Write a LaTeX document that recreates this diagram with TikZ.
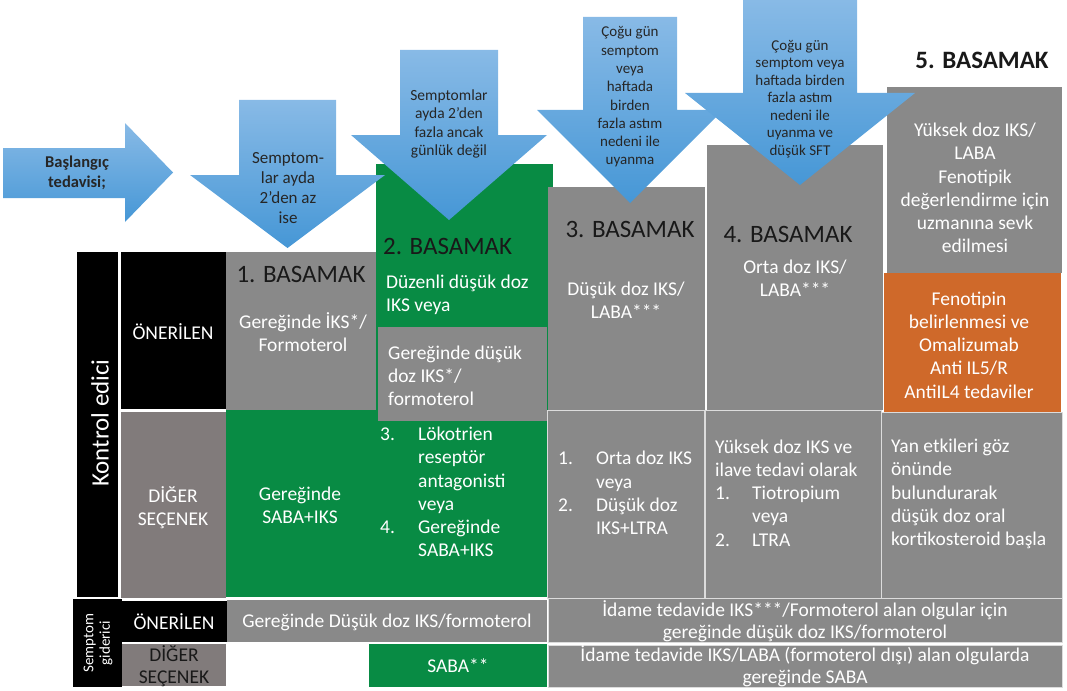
\documentclass[tikz,border=0pt]{standalone}
\usepackage{fontspec}
\setmainfont{Carlito}
\definecolor{cellgray}{RGB}{137,137,137}
\definecolor{sidegray}{RGB}{129,123,123}
\definecolor{stepgreen}{RGB}{8,139,68}
\definecolor{steporange}{RGB}{207,105,42}
\definecolor{arrowtop}{RGB}{136,186,230}
\definecolor{arrowbot}{RGB}{70,151,214}
\newcommand\cellfont{\fontsize{19.5}{23.2}\selectfont}
\newcommand\titlefont{\fontsize{25}{28}\selectfont}
\tikzset{
  cell/.style={anchor=north west,inner sep=0pt,outer sep=0pt},
  lined/.style={cell,draw=white!70!cellgray,line width=0.8pt},
  wtxt/.style={text=white,align=center,font=\cellfont,inner sep=0pt},
  ltxt/.style={wtxt,align=left,anchor=west},
  title/.style={text=black!90,font=\titlefont,inner sep=0pt},
  arrowtxt/.style={text=black!85,align=center,inner sep=0pt},
  blockarrow/.style={top color=arrowtop,bottom color=arrowbot}
}
\begin{document}
\begin{tikzpicture}[x=1pt,y=-1pt]
\useasboundingbox (0,0) rectangle (1067,690);
% Row labels
\node[cell,fill=black,minimum width=41pt,minimum height=345pt] (KE) at (77,252) {};
\node[cell,fill=black,minimum width=105pt,minimum height=157pt] (ON1) at (121,252) {};
\node[cell,fill=sidegray,minimum width=105pt,minimum height=186pt] (DS1) at (121,412) {};
% Steps 1 and 2
\node[cell,fill=cellgray,minimum width=150pt,minimum height=158pt] (S1a) at (226,252) {};
\node[cell,fill=stepgreen,minimum width=150pt,minimum height=187pt] (S1b) at (226,410) {};
\node[cell,fill=stepgreen,minimum width=177pt,minimum height=433pt] (S2) at (376,164) {};
\node[cell,fill=cellgray,minimum width=169pt,minimum height=94pt] (S2g) at (378,327) {};
% Steps 3 to 5
\node[cell,fill=cellgray,minimum width=157pt,minimum height=223pt] (S3a) at (548,187) {};
\node[cell,fill=cellgray,minimum width=176pt,minimum height=265pt] (S4a) at (707,145) {};
\node[cell,fill=cellgray,minimum width=175pt,minimum height=186pt] (S5a) at (887,87) {};
\node[cell,fill=steporange,minimum width=177pt,minimum height=139pt] (S5o) at (884,273) {};
\node[lined,fill=cellgray,minimum width=157pt,minimum height=188pt] (S3b) at (547,410) {};
\node[lined,fill=cellgray,minimum width=176pt,minimum height=188pt] (S4b) at (705,410) {};
\node[lined,fill=cellgray,minimum width=181pt,minimum height=186pt] (S5b) at (881,412) {};
% Symptom relievers
\node[cell,fill=black,minimum width=49pt,minimum height=88pt] (SG) at (73,599) {};
\node[cell,fill=black,minimum width=105pt,minimum height=41pt] (ON2) at (122,601) {};
\node[cell,fill=sidegray,minimum width=104pt,minimum height=42pt] (DS2) at (122,644) {};
\node[cell,fill=cellgray,minimum width=320pt,minimum height=42pt] (R1a) at (227,600) {};
\node[lined,fill=cellgray,minimum width=514pt,minimum height=44pt] (R1b) at (548,598) {};
\node[cell,fill=stepgreen,minimum width=178pt,minimum height=43pt] (R2a) at (369,644) {};
\node[lined,fill=cellgray,minimum width=514pt,minimum height=42pt] (R2b) at (548,645) {};
% Block arrows
\shade[blockarrow] (3,148) -- (125,148) -- (125,123) -- (173,172.5) -- (125,222) -- (125,198) -- (3,198) -- cycle;
\foreach \xl/\xr/\yt/\yh/\hl/\hr/\yp in {239/336/100/175/190/385/248, 400/498/50/135/351/547/220,
    583/677/17/110/537/723/203, 743/857/0/93/685/915/185}
  \shade[blockarrow] (\xl,\yt) -- (\xr,\yt) -- (\xr,\yh) -- (\hr,\yh) -- ({(\hl+\hr)/2},\yp)
    -- (\hl,\yh) -- (\xl,\yh) -- cycle;
% Arrow texts
\node[arrowtxt,font=\fontsize{16.5}{20}\selectfont\bfseries] (A0) at (77,173) {Başlangıç\\tedavisi;};
\node[arrowtxt,font=\fontsize{17}{20}\selectfont] (A1) at (288,188) {Semptom-\\lar ayda\\2’den az\\ise};
\node[arrowtxt,font=\fontsize{15.5}{18.3}\selectfont] (A2) at (449,124) {Semptomlar\\ayda 2’den\\fazla ancak\\günlük değil};
\node[arrowtxt,font=\fontsize{15}{18.3}\selectfont] (A3) at (630,97) {Çoğu gün\\semptom\\veya\\haftada\\birden\\fazla astım\\nedeni ile\\uyanma};
\node[arrowtxt,font=\fontsize{15}{17.5}\selectfont] (A4) at (800,99) {Çoğu gün\\semptom veya\\haftada birden\\fazla astım\\nedeni ile\\uyanma ve\\düşük SFT};
% Titles
\node[title] (B1) at (301,274) {1. BASAMAK};
\node[title,anchor=west] (B2) at (383,246) {2. BASAMAK};
\node[title] (B3) at (630,229) {3. BASAMAK};
\node[title] (B4) at (788,234) {4. BASAMAK};
\node[title,font=\titlefont\bfseries] (B5) at (982,60) {5. BASAMAK};
% Row label texts
\node[wtxt,rotate=90,font=\titlefont] (KEt) at (100,423) {Kontrol edici};
\node[wtxt] (ON1t) at (173,332) {ÖNERİLEN};
\node[wtxt] (DS1t) at (173,508) {DİĞER\\SEÇENEK};
% Cell texts
\node[wtxt] (S1at) at (303,332) {Gereğinde İKS*/\\Formoterol};
\node[wtxt] (S1bt) at (300,505) {Gereğinde\\SABA+IKS};
\node[ltxt] (S2t) at (386,294.5) {Düzenli düşük doz\\IKS veya};
\node[ltxt] (S2gt) at (388,375.5) {Gereğinde düşük\\doz IKS*/\\formoterol};
\node[ltxt] (S2l) at (380,494) {\begin{tabular}{@{}p{38pt}@{}l@{}}
  3. & Lökotrien\\ & reseptör\\ & antagonisti\\ & veya\\ 4. & Gereğinde\\ & SABA+IKS\end{tabular}};
\node[wtxt] (S3at) at (626,300) {Düşük doz IKS/\\LABA***};
\node[wtxt] (S4at) at (795,278) {Orta doz IKS/\\LABA***};
\node[wtxt] (S5at) at (975,188) {Yüksek doz IKS/\\LABA\\Fenotipik\\değerlendirme için\\uzmanına sevk\\edilmesi};
\node[wtxt] (S5ot) at (969,345) {Fenotipin\\belirlenmesi ve\\Omalizumab\\Anti IL5/R\\AntiIL4 tedaviler};
\node[ltxt] (S3l) at (558,495) {\begin{tabular}{@{}p{38pt}@{}l@{}}
  1. & Orta doz IKS\\ & veya\\ 2. & Düşük doz\\ & IKS+LTRA\end{tabular}};
\node[ltxt] (S4l) at (715,495) {\begin{tabular}{@{}p{37pt}@{}l@{}}
  \multicolumn{2}{@{}l@{}}{Yüksek doz IKS ve}\\ \multicolumn{2}{@{}l@{}}{ilave tedavi olarak}\\
  1. & Tiotropium\\ & veya\\ 2. & LTRA\end{tabular}};
\node[ltxt] (S5l) at (891,494) {Yan etkileri göz\\önünde\\bulundurarak\\düşük doz oral\\kortikosteroid başla};
% Symptom reliever texts
\node[wtxt,rotate=90,font=\fontsize{15}{16.5}\selectfont] (SGt) at (98,643) {Semptom\\giderici};
\node[wtxt] (ON2t) at (174,622) {ÖNERİLEN};
\node[wtxt,text=black!90,font=\fontsize{19.5}{21.5}\selectfont] (DS2t) at (174,666) {DİĞER\\SEÇENEK};
\node[wtxt] (R1at) at (387,622) {Gereğinde Düşük doz IKS/formoterol};
\node[wtxt,font=\fontsize{19.5}{22}\selectfont] (R1bt) at (805,621) {İdame tedavide IKS***/Formoterol alan olgular için\\gereğinde düşük doz IKS/formoterol};
\node[wtxt] (R2at) at (458,666) {SABA**};
\node[wtxt,font=\fontsize{19.5}{22}\selectfont] (R2bt) at (805,666) {İdame tedavide IKS/LABA (formoterol dışı) alan olgularda\\gereğinde SABA};
\end{tikzpicture}
\end{document}
